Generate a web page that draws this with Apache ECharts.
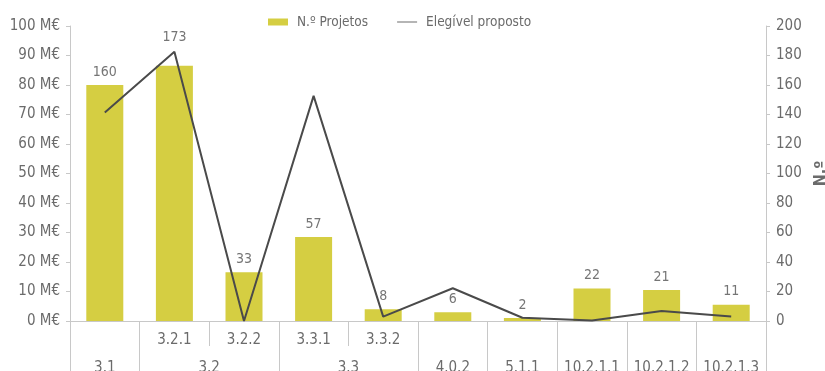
<!DOCTYPE html>
<html><head><meta charset="utf-8">
<script src="https://cdn.jsdelivr.net/npm/echarts@6/dist/echarts.min.js"></script>
<style>html,body{margin:0;padding:0;background:#fff}#c{width:825px;height:371px}</style>
</head><body><div id="c"></div>
<script>
// Level-1 category labels (one per bar; blank where the bar has no sub-level)
const categories = ['3.1','3.2.1','3.2.2','3.3.1','3.3.2','4.0.2','5.1.1','10.2.1.1','10.2.1.2','10.2.1.3'];
const level1Labels = ['', '3.2.1', '3.2.2', '3.3.1', '3.3.2', '', '', '', '', ''];
// Level-2 groups: label and number of categories spanned
const groupLabels = ['3.1','3.2','3.3','4.0.2','5.1.1','10.2.1.1','10.2.1.2','10.2.1.3'];
const groupSpans  = [1, 2, 2, 1, 1, 1, 1, 1];
// Series values
const nProjetos = [160, 173, 33, 57, 8, 6, 2, 22, 21, 11];
const elegivel  = [70.7, 91.3, 0, 76.3, 1.5, 11.1, 1.1, 0.2, 3.4, 1.5];

// derived group boundaries and centers (in category units)
const bounds = [0];
groupSpans.forEach(s => bounds.push(bounds[bounds.length - 1] + s));
const centers = groupSpans.map((s, i) => bounds[i] + s / 2);
const centerLabel = {};
centers.forEach((c, i) => centerLabel[c] = groupLabels[i]);

// the label of the tallest bar sits higher (above the line peak) in the reference
const barData = nProjetos.map((v, i) => i === 1 ? { value: v, label: { distance: 21 } } : v);

const FONT = 'DejaVu Sans Condensed';
const TXT = '#6b6b6b';
const AX = '#c8c8c8';
const chart = echarts.init(document.getElementById('c'));
chart.setOption({
  animation: false,
  textStyle: { fontFamily: FONT },
  legend: {
    top: 10, left: 263, itemGap: 28, itemWidth: 20, itemHeight: 7,
    textStyle: { fontFamily: FONT, fontSize: 13.5, color: TXT, padding: [0, 0, 0, 4] },
    data: [
      { name: 'N.º Projetos', icon: 'rect' },
      { name: 'Elegível proposto', itemStyle: { opacity: 0 }, lineStyle: { color: '#b5b5b5', width: 2 } }
    ]
  },
  grid: { left: 70, right: 59, top: 26, bottom: 50, outerBoundsMode: 'none', containLabel: false },
  xAxis: [
    {
      type: 'category', data: categories, position: 'bottom',
      axisLine: { show: true, lineStyle: { color: AX } },
      axisTick: { show: true, interval: 0, length: 25, lineStyle: { color: AX } },
      axisLabel: { interval: 0, margin: 12, fontSize: 15, color: TXT, fontFamily: FONT,
                   formatter: (v, i) => level1Labels[i] }
    },
    {
      type: 'value', min: 0, max: categories.length, position: 'bottom',
      axisLine: { show: false }, splitLine: { show: false },
      axisTick: { show: true, length: 55, customValues: bounds, lineStyle: { color: AX } },
      axisLabel: { margin: 40, fontSize: 15, color: TXT, fontFamily: FONT,
                   customValues: centers, formatter: v => centerLabel[v] || '' }
    }
  ],
  yAxis: [
    {
      type: 'value', min: 0, max: 100, interval: 10, position: 'left',
      axisLine: { show: true, lineStyle: { color: AX } },
      axisTick: { show: true, length: 4, lineStyle: { color: AX } },
      splitLine: { show: false },
      axisLabel: { margin: 10, fontSize: 15, color: TXT, fontFamily: FONT, formatter: '{value} M€' }
    },
    {
      type: 'value', min: 0, max: 200, interval: 20, position: 'right',
      name: 'N.º', nameLocation: 'middle', nameRotate: 90, nameGap: 43,
      nameTextStyle: { fontSize: 16, fontWeight: 'bold', color: TXT, fontFamily: FONT },
      axisLine: { show: true, lineStyle: { color: AX } },
      axisTick: { show: true, length: 4, lineStyle: { color: AX } },
      splitLine: { show: false },
      axisLabel: { margin: 10, fontSize: 15, color: TXT, fontFamily: FONT }
    }
  ],
  series: [
    {
      name: 'N.º Projetos', type: 'bar', xAxisIndex: 0, yAxisIndex: 1,
      data: barData, barWidth: 37,
      itemStyle: { color: '#d5ce42' },
      label: { show: true, position: 'top', distance: 6, fontSize: 14, color: '#757575', fontFamily: FONT }
    },
    {
      name: 'Elegível proposto', type: 'line', xAxisIndex: 0, yAxisIndex: 0,
      data: elegivel, symbol: 'none', showSymbol: false,
      lineStyle: { color: '#4a4a4a', width: 2 }, itemStyle: { color: '#4a4a4a' }
    }
  ]
});
</script></body></html>
